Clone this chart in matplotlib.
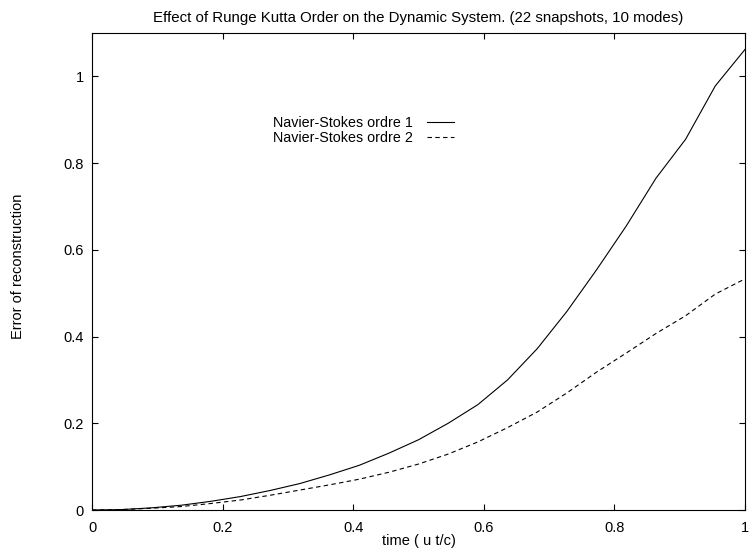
import matplotlib
matplotlib.use('Agg')
import matplotlib.pyplot as plt
import numpy as np

plt.rcParams['font.family'] = ['Liberation Sans', 'DejaVu Sans']

# 22 snapshots -> time steps of 1/22
t = np.arange(23) / 22.0
ordre1 = [0.0, 0.001, 0.005, 0.011, 0.020, 0.031, 0.045, 0.061, 0.081, 0.103,
          0.131, 0.162, 0.200, 0.243, 0.300, 0.372, 0.458, 0.554, 0.655, 0.765,
          0.855, 0.978, 1.062]
ordre2 = [0.0, 0.001, 0.004, 0.008, 0.015, 0.023, 0.034, 0.046, 0.058, 0.071,
          0.087, 0.106, 0.129, 0.157, 0.190, 0.226, 0.270, 0.318, 0.362, 0.407,
          0.448, 0.498, 0.533]
labels = ['Navier-Stokes ordre 1', 'Navier-Stokes ordre 2']
xticks = [0, 0.2, 0.4, 0.6, 0.8, 1]
xticklabels = ['0', '0.2', '0.4', '0.6', '0.8', '1']

fig = plt.figure(figsize=(7.5, 5.5), dpi=100)
ax = fig.add_axes([0.1227, 0.0727, 0.8706, 0.8673])

ax.plot(t, ordre1, color='black', lw=0.8, label=labels[0])
ax.plot(t, ordre2, color='black', lw=0.8, dashes=(4, 3), label=labels[1])

ax.set_xlim(0, 1)
ax.set_ylim(0, 1.1)
ax.set_xticks(xticks)
ax.set_xticklabels(xticklabels)
ax.set_yticks(xticks)
ax.set_yticklabels(xticklabels)
ax.tick_params(direction='in', length=4.5, width=0.8, top=True, right=True,
               labelsize=10.5)
ax.tick_params(axis='x', pad=8)
ax.tick_params(axis='y', pad=6)
for s in ax.spines.values():
    s.set_linewidth(0.8)

ax.set_title('Effect of Runge Kutta Order on the Dynamic System. (22 snapshots, 10 modes)',
             fontsize=10.8, pad=8)
ax.set_xlabel('time ( u t/c)', fontsize=10.5)
ax.xaxis.set_label_coords(0.5, -0.05)
ax.set_ylabel('Error of reconstruction', fontsize=10.5)
ax.yaxis.set_label_coords(-0.103, 0.51)

ax.legend(loc='upper right', bbox_to_anchor=(0.566, 0.84), frameon=False,
          markerfirst=False, fontsize=10.3, handlelength=1.95, handletextpad=0.95,
          labelspacing=0.07, borderpad=0)

fig.savefig('out.png', dpi=100)
